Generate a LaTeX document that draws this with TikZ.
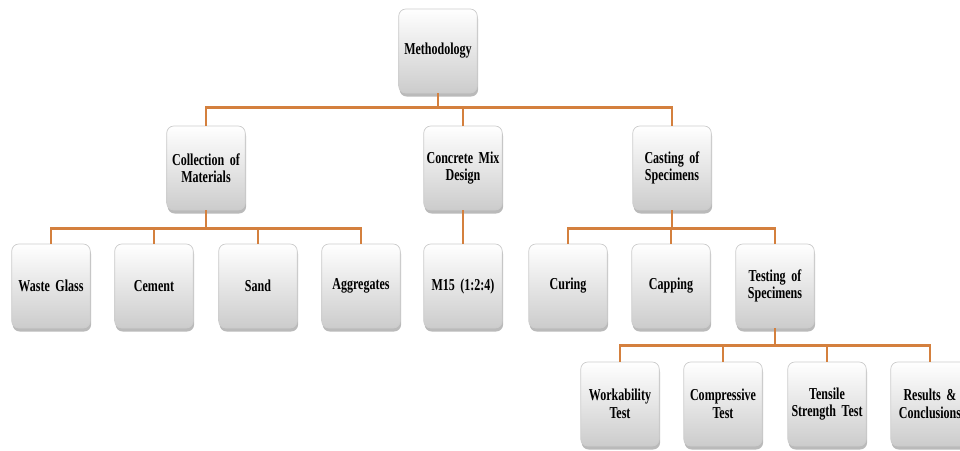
\documentclass[tikz,border=0pt]{standalone}
\usepackage{fontspec}
\setmainfont{Liberation Serif}[FakeStretch=0.72,WordSpace=0.5]
\usetikzlibrary{shadows}
\definecolor{linkorange}{RGB}{212,128,62}
\begin{document}
\begin{tikzpicture}[
        box/.style={
            draw=gray!40,
            rounded corners=4pt,
            minimum width=1.56cm,
            minimum height=1.68cm,
            align=center,
            text width=1.5cm,
            inner sep=1pt,
            font=\fontsize{9.5}{10}\selectfont\bfseries,
            top color=white,
            bottom color=gray!40,
            drop shadow={shadow xshift=0.5pt, shadow yshift=-2pt, fill=black!60, opacity=0.45}
        },
        link/.style={
            draw=linkorange,
            line width=1.6pt
        }
    ]
        \useasboundingbox (0,0) rectangle (19.2,-9);

        % Top
        \node[box] (meth) at (8.76,-1.02) {Methodology};

        % Second level
        \node[box] (coll) at (4.12,-3.36) {Collection of\\Materials};
        \node[box] (mix) at (9.26,-3.36) {Concrete Mix\\Design};
        \node[box] (cast) at (13.44,-3.36) {Casting of\\Specimens};

        % Third level
        \node[box] (glass) at (1.02,-5.72) {Waste Glass};
        \node[box] (cem) at (3.08,-5.72) {Cement};
        \node[box] (sand) at (5.16,-5.72) {Sand};
        \node[box] (agg) at (7.22,-5.72) {Aggregates};
        \node[box] (m15) at (9.26,-5.72) {M15 (1:2:4)};
        \node[box] (cur) at (11.36,-5.72) {Curing};
        \node[box] (cap) at (13.42,-5.72) {Capping};
        \node[box] (test) at (15.50,-5.72) {Testing of\\Specimens};

        % Fourth level
        \node[box] (work) at (12.40,-8.08) {Workability\\Test};
        \node[box] (comp) at (14.46,-8.08) {Compressive\\Test};
        \node[box] (tens) at (16.54,-8.08) {Tensile\\Strength Test};
        \node[box] (res) at (18.60,-8.08) {Results \&\\Conclusions};

        % Connectors
        \foreach \c in {coll,mix,cast}
            \draw[link] (meth.south) -- ++(0,-0.28) -| (\c.north);
        \foreach \c in {glass,cem,sand,agg}
            \draw[link] (coll.south) -- ++(0,-0.36) -| (\c.north);
        \draw[link] (mix.south) -- (m15.north);
        \foreach \c in {cur,cap,test}
            \draw[link] (cast.south) -- ++(0,-0.36) -| (\c.north);
        \foreach \c in {work,comp,tens,res}
            \draw[link] (test.south) -- ++(0,-0.34) -| (\c.north);
    \end{tikzpicture}
\end{document}
